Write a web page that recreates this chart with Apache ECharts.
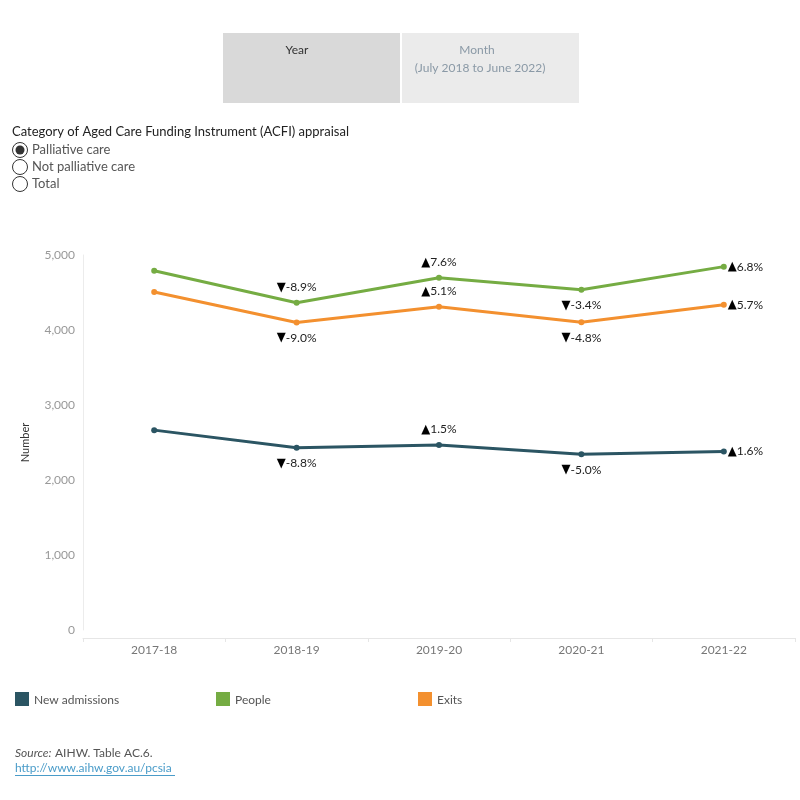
<!DOCTYPE html>
<html>
<head>
<meta charset="utf-8">
<script src="https://cdn.jsdelivr.net/npm/echarts@6/dist/echarts.min.js"></script>
<style>
  html, body { margin: 0; padding: 0; background: #fff; }
  #chart { width: 800px; height: 800px; }
</style>
</head>
<body>
<div id="chart"></div>
<script>
// data
var years = ['2017-18', '2018-19', '2019-20', '2020-21', '2021-22'];
var newAdmissions = [2665, 2430, 2467, 2343, 2381];
var people = [4790, 4364, 4696, 4536, 4845];
var exits = [4507, 4101, 4310, 4103, 4337];
// year-on-year change labels (arrow, value)
var newAdmChange = ['', '-8.8%', '1.5%', '-5.0%', '1.6%'];
var peopleChange = ['', '-8.9%', '7.6%', '-3.4%', '6.8%'];
var exitsChange = ['', '-9.0%', '5.1%', '-4.8%', '5.7%'];
var yTicks = [0, 1000, 2000, 3000, 4000, 5000];

var FONT = 'Lato, "Open Sans", sans-serif';

// where each change label sits relative to its point
var newAdmPos = ['top', 'bottom', 'top', 'bottom', 'right'];
var peoplePos = ['top', 'top', 'top', 'bottom', 'right'];
var exitsPos = ['top', 'bottom', 'top', 'bottom', 'right'];

function buildData(values, labels, positions) {
  return values.map(function (v, i) {
    var txt = labels[i];
    var arrow = txt.charAt(0) === '-' ? '▼' : '▲';
    return {
      value: v,
      label: {
        show: txt !== '',
        formatter: '{a|' + arrow + '}{b|' + txt + '}',
        position: positions[i],
        distance: positions[i] === 'right' ? 1 : 6
      }
    };
  });
}

function lineSeries(name, color, values, labels, positions) {
  return {
    name: name,
    type: 'line',
    data: buildData(values, labels, positions),
    symbol: 'circle',
    symbolSize: 6,
    lineStyle: { width: 3, color: color },
    itemStyle: { color: color },
    label: {
      rich: {
        a: { color: '#000', fontSize: 13, fontFamily: '"DejaVu Sans Condensed", "DejaVu Sans"' },
        b: { color: '#222', fontSize: 12, fontFamily: FONT }
      }
    },
    emphasis: { disabled: true },
    z: 3
  };
}

var chart = echarts.init(document.getElementById('chart'), null, { renderer: 'canvas' });

var option = {
  backgroundColor: '#ffffff',
  animation: false,
  textStyle: { fontFamily: FONT },
  grid: { left: 83, right: 5, top: 255, bottom: 170 },
  xAxis: {
    type: 'category',
    data: years,
    boundaryGap: true,
    offset: 8,
    axisLine: { onZero: false, lineStyle: { color: '#e6e6e6', width: 1 } },
    axisTick: { show: true, length: 4, lineStyle: { color: '#e6e6e6' } },
    axisLabel: { color: '#777', fontSize: 12, margin: 6, fontFamily: FONT }
  },
  yAxis: {
    type: 'value',
    min: yTicks[0],
    max: yTicks[yTicks.length - 1],
    interval: 1000,
    name: 'Number',
    nameLocation: 'middle',
    nameGap: 52,
    nameRotate: 90,
    nameTextStyle: { color: '#333', fontSize: 11, fontFamily: FONT },
    axisLine: { show: true, lineStyle: { color: '#ececec' } },
    axisTick: { show: false },
    splitLine: { show: false },
    axisLabel: {
      color: '#999', fontSize: 12, margin: 8, fontFamily: FONT,
      formatter: function (v) { return v.toLocaleString('en-US'); }
    }
  },
  legend: { show: false },
  series: [
    lineSeries('New admissions', '#2b5563', newAdmissions, newAdmChange, newAdmPos),
    lineSeries('People', '#75ac43', people, peopleChange, peoplePos),
    lineSeries('Exits', '#f3902f', exits, exitsChange, exitsPos)
  ],
  graphic: [
    // Year / Month toggle
    { type: 'rect', shape: { x: 223, y: 33, width: 177, height: 70 }, style: { fill: '#d9d9d9' } },
    { type: 'rect', shape: { x: 402, y: 33, width: 177, height: 70 }, style: { fill: '#ebebeb' } },
    { type: 'text', x: 297, y: 50, style: { text: 'Year', fill: '#333', font: '12px ' + FONT, align: 'center', verticalAlign: 'middle' } },
    { type: 'text', x: 477, y: 50, style: { text: 'Month', fill: '#8a99a6', font: '12px ' + FONT, align: 'center', verticalAlign: 'middle' } },
    { type: 'text', x: 480, y: 68, style: { text: '(July 2018 to June 2022)', fill: '#8a99a6', font: '12px ' + FONT, align: 'center', verticalAlign: 'middle' } },
    // filter radios
    { type: 'text', x: 12, y: 132, style: { text: 'Category of Aged Care Funding Instrument (ACFI) appraisal', fill: '#222', font: '13px ' + FONT, verticalAlign: 'middle' } },
    { type: 'circle', shape: { cx: 20, cy: 150, r: 7.5 }, style: { fill: '#fff', stroke: '#333', lineWidth: 1 } },
    { type: 'circle', shape: { cx: 20, cy: 150, r: 4.5 }, style: { fill: '#333' } },
    { type: 'text', x: 32, y: 150, style: { text: 'Palliative care', fill: '#555', font: '13px ' + FONT, verticalAlign: 'middle' } },
    { type: 'circle', shape: { cx: 20, cy: 167, r: 7.5 }, style: { fill: '#fff', stroke: '#333', lineWidth: 1 } },
    { type: 'text', x: 32, y: 167, style: { text: 'Not palliative care', fill: '#555', font: '13px ' + FONT, verticalAlign: 'middle' } },
    { type: 'circle', shape: { cx: 20, cy: 184, r: 7.5 }, style: { fill: '#fff', stroke: '#333', lineWidth: 1 } },
    { type: 'text', x: 32, y: 184, style: { text: 'Total', fill: '#555', font: '13px ' + FONT, verticalAlign: 'middle' } },
    // legend
    { type: 'rect', shape: { x: 15, y: 692, width: 14, height: 14 }, style: { fill: '#2b5563' } },
    { type: 'text', x: 34, y: 700, style: { text: 'New admissions', fill: '#555', font: '12px ' + FONT, verticalAlign: 'middle' } },
    { type: 'rect', shape: { x: 216, y: 692, width: 14, height: 14 }, style: { fill: '#75ac43' } },
    { type: 'text', x: 235, y: 700, style: { text: 'People', fill: '#555', font: '12px ' + FONT, verticalAlign: 'middle' } },
    { type: 'rect', shape: { x: 418, y: 692, width: 14, height: 14 }, style: { fill: '#f3902f' } },
    { type: 'text', x: 437, y: 700, style: { text: 'Exits', fill: '#555', font: '12px ' + FONT, verticalAlign: 'middle' } },
    // source
    { type: 'text', x: 15, y: 753, style: { text: 'Source:', fill: '#555', font: 'italic 12px ' + FONT, verticalAlign: 'middle' } },
    { type: 'text', x: 55, y: 753, style: { text: 'AIHW. Table AC.6.', fill: '#555', font: '12px ' + FONT, verticalAlign: 'middle' } },
    { type: 'text', x: 15, y: 768, style: { text: 'http://www.aihw.gov.au/pcsia', fill: '#4a9cc9', font: '12px ' + FONT, verticalAlign: 'middle' } },
    { type: 'rect', shape: { x: 15, y: 775, width: 160, height: 1 }, style: { fill: '#4a9cc9' } }
  ]
};

chart.setOption(option);
</script>
</body>
</html>
